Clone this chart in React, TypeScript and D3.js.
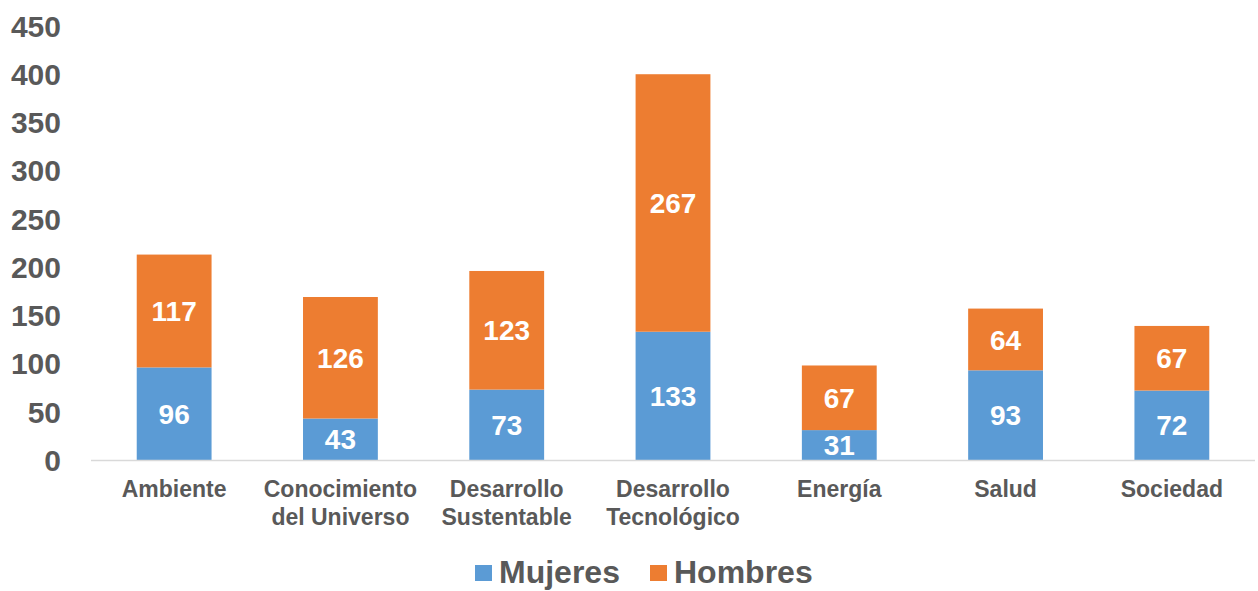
import React from "react";
import * as d3 from "d3";

const categories = [
  ["Ambiente"],
  ["Conocimiento", "del Universo"],
  ["Desarrollo", "Sustentable"],
  ["Desarrollo", "Tecnológico"],
  ["Energía"],
  ["Salud"],
  ["Sociedad"],
];
const mujeres = [96, 43, 73, 133, 31, 93, 72];
const hombres = [117, 126, 123, 267, 67, 64, 67];
const yTicks = [0, 50, 100, 150, 200, 250, 300, 350, 400, 450];
const seriesNames = ["Mujeres", "Hombres"];
const colors = ["#5B9BD5", "#ED7D31"];

const W = 1258;
const H = 591;
const left = 91;
const right = 1255;
const font = "'Liberation Sans', Arial, sans-serif";
const grey = "#595959";

export default function App() {
  const x = d3
    .scaleBand<number>()
    .domain(categories.map((_, i) => i))
    .range([left, right])
    .paddingInner(0.55)
    .paddingOuter(0.275);
  const y = d3.scaleLinear().domain([0, 450]).range([460, 26]);

  const rows = categories.map((_, i) => ({ m: mujeres[i], h: hombres[i] }));
  const stacked = d3.stack<{ m: number; h: number }>().keys(["m", "h"])(rows);

  return (
    <div style={{ position: "fixed", left: 0, top: 0 }}>
      <svg width={W} height={H} style={{ display: "block", fontFamily: font }}>
        <rect width={W} height={H} fill="#fff" />
        {yTicks.map((t) => (
          <text
            key={t}
            x={61}
            y={y(t)}
            dy="0.36em"
            textAnchor="end"
            fontSize={30}
            fontWeight="bold"
            fill={grey}
          >
            {t}
          </text>
        ))}
        {stacked.map((s, si) =>
          s.map((d, i) => (
            <g key={`${si}-${i}`}>
              <rect
                x={x(i)}
                y={y(d[1])}
                width={x.bandwidth()}
                height={y(d[0]) - y(d[1])}
                fill={colors[si]}
              />
              <text
                x={x(i)! + x.bandwidth() / 2}
                y={(y(d[0]) + y(d[1])) / 2}
                dy="0.36em"
                textAnchor="middle"
                fontSize={28}
                fontWeight="bold"
                fill="#fff"
              >
                {d[1] - d[0]}
              </text>
            </g>
          ))
        )}
        <line x1={left} x2={right} y1={y(0) + 0.5} y2={y(0) + 0.5} stroke="#D9D9D9" strokeWidth={1.5} />
        {categories.map((lines, i) => (
          <text
            key={i}
            x={x(i)! + x.bandwidth() / 2}
            y={497}
            textAnchor="middle"
            fontSize={23}
            fontWeight="bold"
            fill={grey}
          >
            {lines.map((l, j) => (
              <tspan key={j} x={x(i)! + x.bandwidth() / 2} dy={j === 0 ? 0 : 27.5}>
                {l}
              </tspan>
            ))}
          </text>
        ))}
        {seriesNames.map((n, i) => {
          const lx = i === 0 ? 475 : 650;
          return (
            <g key={n}>
              <rect x={lx} y={565} width={17} height={16} fill={colors[i]} />
              <text x={lx + 24} y={583} fontSize={32} fontWeight="bold" fill={grey}>
                {n}
              </text>
            </g>
          );
        })}
      </svg>
    </div>
  );
}
